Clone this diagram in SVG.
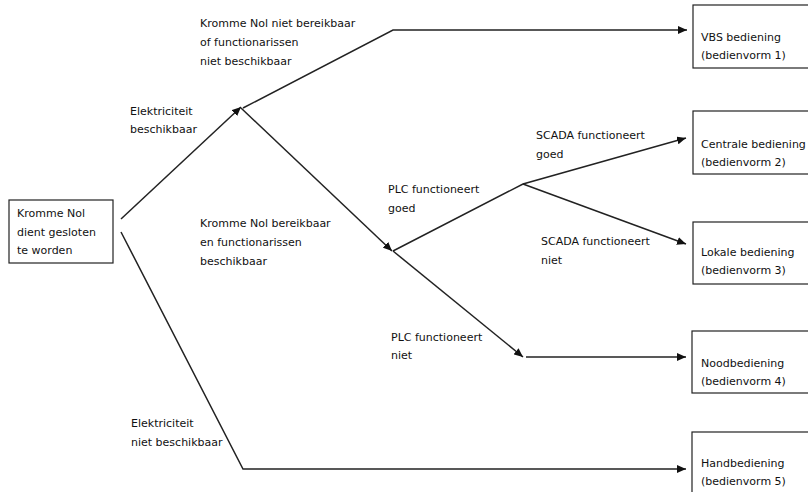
<svg xmlns="http://www.w3.org/2000/svg" width="808" height="492" viewBox="0 0 808 492">
<style>
text{font-family:"DejaVu Sans",Verdana,sans-serif;font-size:11px;fill:#111;}
.box{fill:#fff;stroke:#222;stroke-width:1.2;}
.c{fill:none;stroke:#222;stroke-width:1.5;}
.a{marker-end:url(#arr);}
</style>
<defs>
<marker id="arr" markerUnits="userSpaceOnUse" markerWidth="9" markerHeight="8" refX="9" refY="4" orient="auto">
<path d="M0,0 L9,4 L0,8 z" fill="#111"/>
</marker>
</defs>
<rect width="808" height="492" fill="#fff"/>
<g id="connectors">
<path class="c a" d="M121,219 L241,107"/>
<path class="c a" d="M243,108 L393,30 L687,30"/>
<path class="c a" d="M241,108 L392,251"/>
<path class="c a" d="M393,251 L523,184 L686,138"/>
<path class="c a" d="M523,184 L686,244"/>
<path class="c a" d="M393,251 L523,357"/>
<path class="c a" d="M526,357 L686,357"/>
<path class="c a" d="M121,232 L243,469 L686,469"/>
</g>
<g id="labels">
<text x="200" y="27">Kromme Nol niet bereikbaar</text>
<text x="200" y="46">of functionarissen</text>
<text x="200" y="65">niet beschikbaar</text>
<text x="130" y="115">Elektriciteit</text>
<text x="130" y="133">beschikbaar</text>
<text x="200" y="227">Kromme Nol bereikbaar</text>
<text x="200" y="246">en functionarissen</text>
<text x="200" y="265">beschikbaar</text>
<text x="388" y="193">PLC functioneert</text>
<text x="388" y="212">goed</text>
<text x="536" y="139">SCADA functioneert</text>
<text x="536" y="158">goed</text>
<text x="541" y="245">SCADA functioneert</text>
<text x="541" y="264">niet</text>
<text x="391" y="341">PLC functioneert</text>
<text x="391" y="359">niet</text>
<text x="131" y="427">Elektriciteit</text>
<text x="131" y="446">niet beschikbaar</text>
</g>
<g id="start">
<rect class="box" x="9" y="200" width="104" height="63"/>
<text x="17" y="217">Kromme Nol</text>
<text x="17" y="236">dient gesloten</text>
<text x="17" y="254">te worden</text>
</g>
<g id="vorm1">
<rect class="box" x="693" y="5" width="130" height="63"/>
<text x="701" y="41">VBS bediening</text>
<text x="701" y="59">(bedienvorm 1)</text>
</g>
<g id="vorm2">
<rect class="box" x="693" y="111" width="130" height="63"/>
<text x="701" y="148">Centrale bediening</text>
<text x="701" y="166">(bedienvorm 2)</text>
</g>
<g id="vorm3">
<rect class="box" x="693" y="222" width="130" height="62"/>
<text x="701" y="256">Lokale bediening</text>
<text x="701" y="274">(bedienvorm 3)</text>
</g>
<g id="vorm4">
<rect class="box" x="692" y="331" width="130" height="62"/>
<text x="701" y="367">Noodbediening</text>
<text x="701" y="385">(bedienvorm 4)</text>
</g>
<g id="vorm5">
<rect class="box" x="692" y="432" width="130" height="70"/>
<text x="701" y="467">Handbediening</text>
<text x="701" y="485">(bedienvorm 5)</text>
</g>
</svg>
